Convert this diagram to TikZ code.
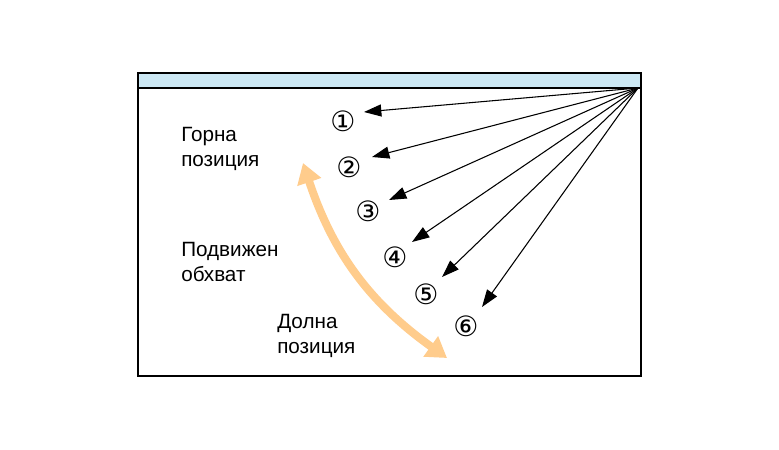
\documentclass[tikz,border=0pt]{standalone}
\usepackage{fontspec}
\setmainfont{Liberation Sans}
\newfontfamily\symfont{DejaVu Sans}
\usetikzlibrary{arrows.meta,positioning}
\definecolor{stripblue}{RGB}{204,232,244}
\definecolor{rangeorange}{RGB}{255,204,140}
\tikzset{
  lbl/.style={align=left, anchor=west, font=\fontsize{15.5}{19}\selectfont, inner sep=0pt},
  num/.style={font=\symfont\fontsize{21}{21}\selectfont, inner sep=0pt},
  ray/.style={thick, -{Triangle[length=13pt,width=9pt]}},
  movearrow/.style={line width=6pt, rangeorange, {Triangle[length=15pt,width=18pt]}-{Triangle[length=15pt,width=18pt]}}
}
\begin{document}
\begin{tikzpicture}[x=0.75pt,y=-0.75pt]
\useasboundingbox (0,0) rectangle (779,450);
% frame and top strip
\draw[thick, fill=white] (138,73) rectangle (641,376);
\draw[thick, fill=stripblue] (138,73) rectangle (641,88);
\coordinate (src) at (638,88);

% circled numbers
\node[num] (n1) at (343,121) {①};
\node[num] (n2) at (349,167) {②};
\node[num] (n3) at (368,211) {③};
\node[num] (n4) at (395,257) {④};
\node[num] (n5) at (426,294) {⑤};
\node[num] (n6) at (466,326) {⑥};

% arrow end points
\coordinate (e1) at (364,112);
\coordinate (e2) at (372,157);
\coordinate (e3) at (389,200);
\coordinate (e4) at (412,242);
\coordinate (e5) at (442,277);
\coordinate (e6) at (482,307);
\foreach \i in {1,...,6}
  \draw[ray] (src) -- (e\i);

% range arrow
\coordinate (top) at (303,163);
\coordinate (bot) at (447,358);
\draw[movearrow] (top) to[bend right=18] (bot);

% labels
\node[lbl] (upper) at (181,149) {Горна\\позиция};
\node[lbl] (mid) at (181,262) {Подвижен\\обхват};
\node[lbl] (lower) at (277,336) {Долна\\позиция};
\end{tikzpicture}
\end{document}
